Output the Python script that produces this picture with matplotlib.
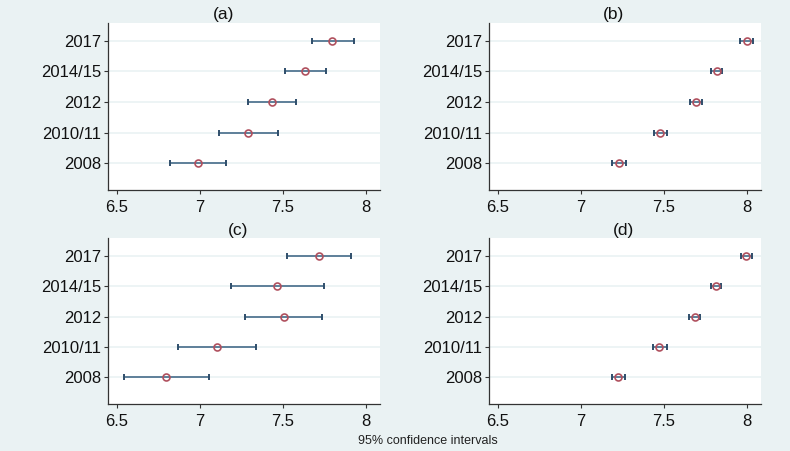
import matplotlib
matplotlib.use("Agg")
import matplotlib.pyplot as plt
import numpy as np

plt.rcParams["font.family"] = ["Liberation Sans", "DejaVu Sans"]

# categories, bottom to top
waves = ["2008", "2010/11", "2012", "2014/15", "2017"]

# panel estimates and 95% CI bounds
a_mean = [6.988, 7.293, 7.434, 7.636, 7.800]
a_low = [6.821, 7.116, 7.291, 7.514, 7.675]
a_high = [7.155, 7.470, 7.577, 7.759, 7.928]

b_mean = [7.232, 7.476, 7.697, 7.820, 8.000]
b_low = [7.190, 7.440, 7.660, 7.787, 7.963]
b_high = [7.272, 7.520, 7.733, 7.854, 8.036]

c_mean = [6.797, 7.102, 7.505, 7.467, 7.719]
c_low = [6.544, 6.867, 7.272, 7.186, 7.527]
c_high = [7.055, 7.340, 7.739, 7.747, 7.914]

d_mean = [7.226, 7.474, 7.687, 7.816, 7.996]
d_low = [7.187, 7.436, 7.652, 7.784, 7.966]
d_high = [7.264, 7.517, 7.719, 7.848, 8.030]

panel_titles = ["(a)", "(b)", "(c)", "(d)"]
x_ticks = [6.5, 7, 7.5, 8]
x_tick_labels = ["6.5", "7", "7.5", "8"]

BG = "#EAF2F3"
LINE = "#5E7F99"
CAP = "#2F4E6B"
MARK = "#B0505E"

W, H = 790, 451
fig = plt.figure(figsize=(W / 100, H / 100), dpi=100, facecolor=BG)

# (left, top, right, bottom) in pixels, plus title centre x,y
boxes = [
    (108, 23, 380, 190, 224, 14),
    (489, 23, 761, 190, 613, 14),
    (108, 238, 380, 404, 238, 230),
    (489, 238, 761, 404, 623, 230),
]
data = [
    (a_mean, a_low, a_high),
    (b_mean, b_low, b_high),
    (c_mean, c_low, c_high),
    (d_mean, d_low, d_high),
]

ypos = np.arange(1, len(waves) + 1)

for (l, t, r, b, tx, ty), (mean, low, high), title in zip(boxes, data, panel_titles):
    ax = fig.add_axes([l / W, 1 - b / H, (r - l) / W, (b - t) / H])
    ax.set_facecolor("white")
    mean = np.array(mean)
    low = np.array(low)
    high = np.array(high)
    for y in ypos:
        ax.axhline(y, color=BG, lw=1.2, zorder=0)
    ax.hlines(ypos, low, high, color=LINE, lw=1.4, zorder=2)
    ax.plot(low, ypos, "|", color=CAP, ms=5, mew=1.4, zorder=3)
    ax.plot(high, ypos, "|", color=CAP, ms=5, mew=1.4, zorder=3)
    ax.plot(mean, ypos, "o", mfc="none", mec=MARK, mew=1.2, ms=5, zorder=4)
    ax.set_xlim(6.445, 8.087)
    ax.set_ylim(0.115, 5.59)
    ax.set_xticks(x_ticks)
    ax.set_xticklabels(x_tick_labels)
    ax.set_yticks(ypos)
    ax.set_yticklabels(waves)
    ax.tick_params(axis="both", labelsize=12, length=3, width=0.8,
                   color="#333333", labelcolor="#111111")
    ax.tick_params(axis="y", pad=2)
    ax.tick_params(axis="x", pad=4)
    for side in ("top", "right"):
        ax.spines[side].set_visible(False)
    for side in ("left", "bottom"):
        ax.spines[side].set_color("#333333")
        ax.spines[side].set_linewidth(0.9)
    fig.text(tx / W, 1 - ty / H, title, ha="center", va="center",
             fontsize=12.5, color="#111111")

fig.text(428 / W, 1 - 441 / H, "95% confidence intervals", ha="center",
         va="center", fontsize=9, color="#222222")

fig.savefig("out.png", dpi=100, facecolor=BG)
